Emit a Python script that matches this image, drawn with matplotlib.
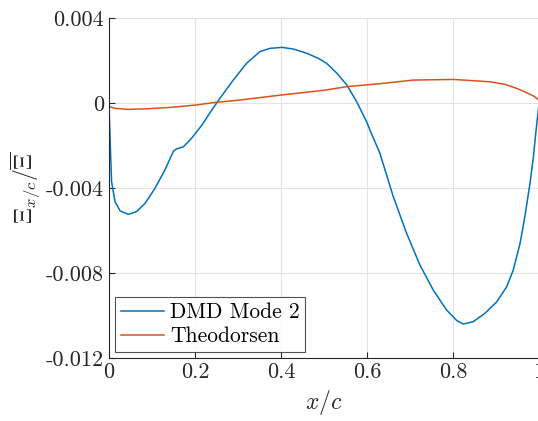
import numpy as np
import matplotlib.pyplot as plt

plt.rcParams['font.family'] = 'serif'
plt.rcParams['font.serif'] = ['cmr10']
plt.rcParams['mathtext.fontset'] = 'cm'
plt.rcParams['axes.unicode_minus'] = False

# DMD mode 2
x_dmd = [0.0, 0.003, 0.006, 0.014, 0.026, 0.045, 0.064, 0.084, 0.107, 0.130, 0.150,
         0.157, 0.173, 0.192, 0.216, 0.239, 0.258, 0.289, 0.320, 0.351, 0.374, 0.402,
         0.429, 0.460, 0.487, 0.506, 0.530, 0.553, 0.576, 0.599, 0.611, 0.630, 0.661,
         0.692, 0.723, 0.754, 0.785, 0.809, 0.824, 0.847, 0.874, 0.902, 0.925, 0.940,
         0.956, 0.967, 0.979, 0.987, 0.993, 0.998, 1.0]
y_dmd = [-0.00017, -0.00198, -0.0037, -0.00464, -0.00508, -0.00524, -0.00511, -0.00472,
         -0.00401, -0.00315, -0.00226, -0.00216, -0.00206, -0.00166, -0.00104, -0.00033,
         0.00022, 0.00108, 0.00187, 0.00242, 0.00257, 0.00262, 0.00254, 0.00234, 0.0021,
         0.00187, 0.0014, 0.00085, 0.00006, -0.00088, -0.00147, -0.00237, -0.0044,
         -0.00613, -0.00762, -0.0088, -0.00974, -0.01024, -0.0104, -0.01029, -0.0099,
         -0.00935, -0.00864, -0.00786, -0.0066, -0.00535, -0.00378, -0.00252, -0.0013,
         -0.0004, 0.0]

# Theodorsen
x_th = [0.0, 0.014, 0.045, 0.091, 0.146, 0.2, 0.247, 0.3, 0.402, 0.5, 0.553, 0.63,
        0.708, 0.801, 0.886, 0.92, 0.948, 0.97, 0.99, 1.0]
y_th = [-0.00016, -0.00025, -0.0003, -0.00027, -0.0002, -0.0001, 0.00003, 0.00013,
        0.00038, 0.0006, 0.00077, 0.00091, 0.00108, 0.00111, 0.001, 0.00088, 0.00069,
        0.0005, 0.0003, 0.00012]

xticks = [0, 0.2, 0.4, 0.6, 0.8, 1]
xticklabels = ['0', '0.2', '0.4', '0.6', '0.8', '1']
yticks = [0.004, 0, -0.004, -0.008, -0.012]
yticklabels = ['0.004', '0', '-0.004', '-0.008', '-0.012']

fig = plt.figure(figsize=(5.38, 4.21), dpi=100)
ax = fig.add_axes([0.2026, 0.1496, 0.7993, 0.8076])
ax.plot(x_dmd, y_dmd, color='#0072BD', lw=1.1, label='DMD Mode 2')
ax.plot(x_th, y_th, color='#D95319', lw=1.1, label='Theodorsen')
ax.set_xlim(0, 1)
ax.set_ylim(-0.012, 0.004)
ax.set_xticks(xticks)
ax.set_xticklabels(xticklabels)
ax.set_yticks(yticks)
ax.set_yticklabels(yticklabels)
ax.grid(True, color='#e3e3e3', lw=0.8)
ax.set_axisbelow(True)
for s in ['top', 'right']:
    ax.spines[s].set_visible(False)
for s in ['left', 'bottom']:
    ax.spines[s].set_color('#262626')
    ax.spines[s].set_linewidth(0.8)
ax.tick_params(direction='in', length=4, width=0.8, colors='#262626', labelsize=16,
               labelcolor='#262626')
ax.set_xlabel(r'$x/c$', fontsize=17, color='#262626')
ax.set_ylabel(r'$\Xi_{x/c}/\overline{\Xi}$', fontsize=17, color='#262626', labelpad=2)
leg = ax.legend(loc='lower left', fontsize=15.5, frameon=True, fancybox=False,
                handlelength=2.0, handletextpad=0.3, borderaxespad=0.3,
                borderpad=0.25, labelspacing=0.2)
leg.get_frame().set_edgecolor('#262626')
leg.get_frame().set_linewidth(0.8)
plt.savefig('out.png', dpi=100)
